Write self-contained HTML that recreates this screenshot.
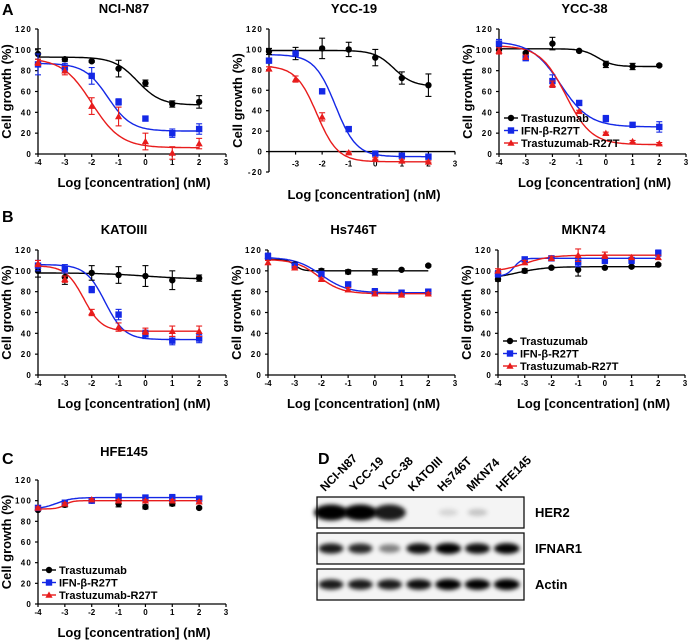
<!DOCTYPE html>
<html><head><meta charset="utf-8"><style>
html,body{margin:0;padding:0;background:#fff}
svg{display:block;font-family:"Liberation Sans",Arial,sans-serif}
</style></head><body>
<svg id="fig" width="689" height="641" viewBox="0 0 689 641">
<defs><filter id="blur" x="-20%" y="-50%" width="140%" height="200%"><feGaussianBlur stdDeviation="2.2"/></filter></defs>
<g font-weight="bold" font-size="16">
<text x="2" y="15">A</text>
<text x="2" y="222">B</text>
<text x="2" y="464">C</text>
<text x="318" y="464">D</text>
</g>
<g id="charts"></g>
<g id="blot"></g>
</svg>
<script>
const xCats=[-4,-3,-2,-1,0,1,2];
const seriesNames=["Trastuzumab","IFN-\u03b2-R27T","Trastuzumab-R27T"];
const panelTitles=["NCI-N87","YCC-19","YCC-38","KATOIII","Hs746T","MKN74","HFE145"];
// values per panel: [black, blue, red]
const valsNCI=[[96,91,89,82,68,48,50],[86,83,75,50,34,20,24],[88,80,46,36,12,1,10]];
const errNCI=[[5,2,1,8,3,3,6],[10,4,8,3,2,4,5],[3,4,8,9,8,6,5]];
const valsYCC19=[[98,96,101,100,92,72,65],[89,96,59,22,-2,-4,-5],[81,71,34,-1,-7,-9,-10]];
const errYCC19=[[3,6,10,7,8,6,11],[2,2,2,2,2,1,1],[2,3,4,1,1,1,1]];
const valsYCC38=[[100,97,106,99,86,84,85],[106,92,70,49,34,28,26],[99,93,67,41,20,12,10]];
const errYCC38=[[3,1,6,1,3,3,1],[4,2,6,2,3,2,5],[3,2,3,1,1,1,1]];
const valsKATO=[[100,94,98,96,95,91,93],[105,102,82,58,39,33,35],[107,92,60,46,42,42,42]];
const errKATO=[[6,7,7,8,10,9,3],[5,4,3,5,4,4,4],[3,3,3,4,3,5,5]];
const valsHs=[[112,106,100,99,99,101,105],[114,105,97,87,80,79,80],[108,103,92,82,78,77,78]];
const errHs=[[2,2,2,2,3,1,1],[3,1,1,2,3,2,2],[2,1,1,2,2,1,1]];
const valsMKN=[[92,100,103,101,103,104,106],[97,111,112,108,110,110,117],[100,108,112,115,115,113,113]];
const errMKN=[[2,2,1,6,1,1,1],[3,2,2,4,3,3,3],[2,2,2,6,3,2,2]];
const valsHFE=[[91,96,100,97,94,97,93],[93,98,100,104,103,103,102],[93,97,101,100,100,100,99]];
const errHFE=[[1,2,1,3,2,2,1],[1,1,1,2,2,3,2],[1,1,1,1,1,1,1]];
// fitted curve parameters [value at low conc, value at high conc, logIC50, hill]
const fitNCI=[[93,47,-0.3,1],[87,22,-1.4,1],[92,6,-2,0.8]];
const fitYCC19=[[99,64,0.7,1.2],[95,-5,-1.5,1.1],[84,-10,-2.2,1.1]];
const fitYCC38=[[101,84,-0.3,1.5],[108,26,-1.7,0.8],[104,9,-1.5,0.9]];
const fitKATO=[[98,92,0,0.5],[106,34,-1.5,1.2],[105,42,-2.3,1.3]];
const fitHs=[[111,100,-3,3],[113,79,-2,0.9],[111,78,-2.1,1]];
const fitMKN=[[92,104,-3.3,0.8],[95,112,-3.4,3],[99,115,-3,0.9]];
const fitHFE=[[null],[92,103,-3.3,1.5],[92,100,-3,3]];
const colors=["#000","#1428e6","#e81c1c"];
const NS="http://www.w3.org/2000/svg";
function el(tag,attrs,parent){const e=document.createElementNS(NS,tag);for(const k in attrs)e.setAttribute(k,attrs[k]);parent.appendChild(e);return e;}
const panels=[
 {t:0,v:valsNCI,e:errNCI,f:fitNCI,ax:38,x3:226,yt:29,yb:154,ymin:0,title:13,legend:null},
 {t:1,v:valsYCC19,e:errYCC19,f:fitYCC19,ax:269,x3:455,yt:29,yb:172,ymin:-20,title:13,legend:null},
 {t:2,v:valsYCC38,e:errYCC38,f:fitYCC38,ax:499,x3:686,yt:29,yb:154,ymin:0,title:13,legend:[504,118]},
 {t:3,v:valsKATO,e:errKATO,f:fitKATO,ax:38,x3:226,yt:250,yb:375,ymin:0,title:234,legend:null},
 {t:4,v:valsHs,e:errHs,f:fitHs,ax:268,x3:455,yt:250,yb:375,ymin:0,title:234,legend:null},
 {t:5,v:valsMKN,e:errMKN,f:fitMKN,ax:498,x3:685,yt:250,yb:375,ymin:0,title:234,legend:[503,341]},
 {t:6,v:valsHFE,e:errHFE,f:fitHFE,ax:38,x3:226,yt:480,yb:604,ymin:0,title:456,legend:[42,570]}
];
function marker(g,i,x,y){
 if(i===0){return el('circle',{cx:x,cy:y,r:3.2,fill:colors[0]},g);}
 if(i===1){return el('rect',{x:x-3.2,y:y-3.2,width:6.4,height:6.4,fill:colors[1]},g);}
 return el('polygon',{points:`${x},${y-3.6} ${x+3.6},${y+2.8} ${x-3.6},${y+2.8}`,fill:colors[2]},g);
}
const root=document.getElementById('charts');
panels.forEach((p,pi)=>{
 const g=el('g',{},root);
 
 
 const sx=v=>p.ax+(v+4)*(p.x3-p.ax)/7;
 const sy=v=>p.yb-(v-p.ymin)*(p.yb-p.yt)/(120-p.ymin);
 const cx=(p.ax+p.x3)/2;
 const tt=el('text',{x:cx-8,y:p.title,'text-anchor':'middle','font-weight':'bold','font-size':13},g);tt.textContent=panelTitles[p.t];
 
 
 el('line',{x1:p.ax,y1:sy(p.ymin),x2:p.ax,y2:sy(120),stroke:'#000','stroke-width':1.3},g);
 for(let v=p.ymin;v<=120;v+=20){
  el('line',{x1:p.ax-3,y1:sy(v),x2:p.ax,y2:sy(v),stroke:'#000','stroke-width':1.2},g);
  const t=el('text',{x:p.ax-6,y:sy(v)+3,'text-anchor':'end','font-size':8,'font-weight':'bold','letter-spacing':1.2},g);t.textContent=v;
  
  
 }
 const y0=sy(0);
 el('line',{x1:p.ax,y1:y0,x2:p.x3,y2:y0,stroke:'#000','stroke-width':1.3},g);
 const labY=sy(p.ymin)+11;
 for(let v=-4;v<=3;v++){
  el('line',{x1:sx(v),y1:y0,x2:sx(v),y2:y0+3,stroke:'#000','stroke-width':1.2},g);
  if(p.ymin<0&&v===-4)continue;
  const t=el('text',{x:sx(v),y:p.ymin<0?y0+15:labY,'text-anchor':'middle','font-size':8,'font-weight':'bold'},g);t.textContent=v;
  
  
 }
 const xt=el('text',{x:cx+2,y:sy(p.ymin)+33-(p.ymin<0?6:0),'text-anchor':'middle','font-size':13,'font-weight':'bold'},g);xt.textContent='Log [concentration] (nM)';
 
 
 const ymid=(sy(120)+sy(p.ymin))/2;
 const yt=el('text',{x:p.ax-27,y:ymid,'text-anchor':'middle','font-size':13,'font-weight':'bold',transform:`rotate(-90 ${p.ax-27} ${ymid})`},g);yt.textContent='Cell growth (%)';
 
 
 p.f.forEach((f,si)=>{
  if(f[0]===null)return;
  let d='';
  for(let k=0;k<=120;k++){const x=-4+6*k/120;const y=f[1]+(f[0]-f[1])/(1+Math.pow(10,(x-f[2])*f[3]));d+=(k?'L':'M')+sx(x).toFixed(1)+','+sy(y).toFixed(1);}
  const c=el('path',{d:d,fill:'none',stroke:colors[si],'stroke-width':1.4},g);
  
  
 });
 p.v.forEach((arr,si)=>{
  arr.forEach((v,k)=>{
   const x=sx(xCats[k]),y=sy(v),e=p.e[si][k]*(p.yb-p.yt)/(120-p.ymin);
   el('line',{x1:x,y1:y-e,x2:x,y2:y+e,stroke:colors[si],'stroke-width':1.1},g);
   el('line',{x1:x-3,y1:y-e,x2:x+3,y2:y-e,stroke:colors[si],'stroke-width':1.1},g);
   el('line',{x1:x-3,y1:y+e,x2:x+3,y2:y+e,stroke:colors[si],'stroke-width':1.1},g);
   const m=marker(g,si,x,y);
   
   
  });
 });
 if(p.legend){
  const lg=el('g',{},g);
  
  
  seriesNames.forEach((n,si)=>{
   const lx=p.legend[0],ly=p.legend[1]+si*12.5;
   el('line',{x1:lx,y1:ly,x2:lx+14,y2:ly,stroke:colors[si],'stroke-width':1.4},lg);
   marker(lg,si,lx+7,ly);
   const t=el('text',{x:lx+17,y:ly+4,'font-size':11,'font-weight':'bold'},lg);t.textContent=n;
   
   
  });
 }
});
const lanes=["NCI-N87","YCC-19","YCC-38","KATOIII","Hs746T","MKN74","HFE145"];
const her2=[1,1,0.85,0,0.12,0.18,0];
const ifnar=[0.85,0.8,0.45,0.9,1,0.9,0.95];
const actin=[0.85,0.85,0.85,0.9,1,0.95,1];
const bg=document.getElementById('blot');
const lx=i=>331+i*29.3;
lanes.forEach((n,i)=>{
 const x=lx(i)-6,y=492;
 const t=el('text',{x:x,y:y,'font-size':12,'font-weight':'bold',transform:`rotate(-45 ${x} ${y})`},bg);t.textContent=n;
 
 
});
const rows=[["HER2",her2,497],["IFNAR1",ifnar,533],["Actin",actin,569]];
rows.forEach(([name,arr,top])=>{
 const rg=el('g',{},bg);
 
 
 el('rect',{x:317,y:top,width:207,height:31,fill:'#f4f4f4',stroke:'#111','stroke-width':1.3},rg);
 arr.forEach((v,i)=>{
  if(v<=0)return;
  const w=name==="HER2"&&v>0.5?34:26;
  el('ellipse',{cx:lx(i),cy:top+15.5,rx:w/2*(0.7+0.3*v),ry:name==="HER2"&&v>0.5?8:5.5*(0.6+0.4*v),fill:'#000','fill-opacity':Math.min(1,v*1.05),filter:'url(#blur)'},rg);
 });
 const t=el('text',{x:535,y:top+20,'font-size':13,'font-weight':'bold'},rg);t.textContent=name;
 
 
});
</script>
</body></html>
